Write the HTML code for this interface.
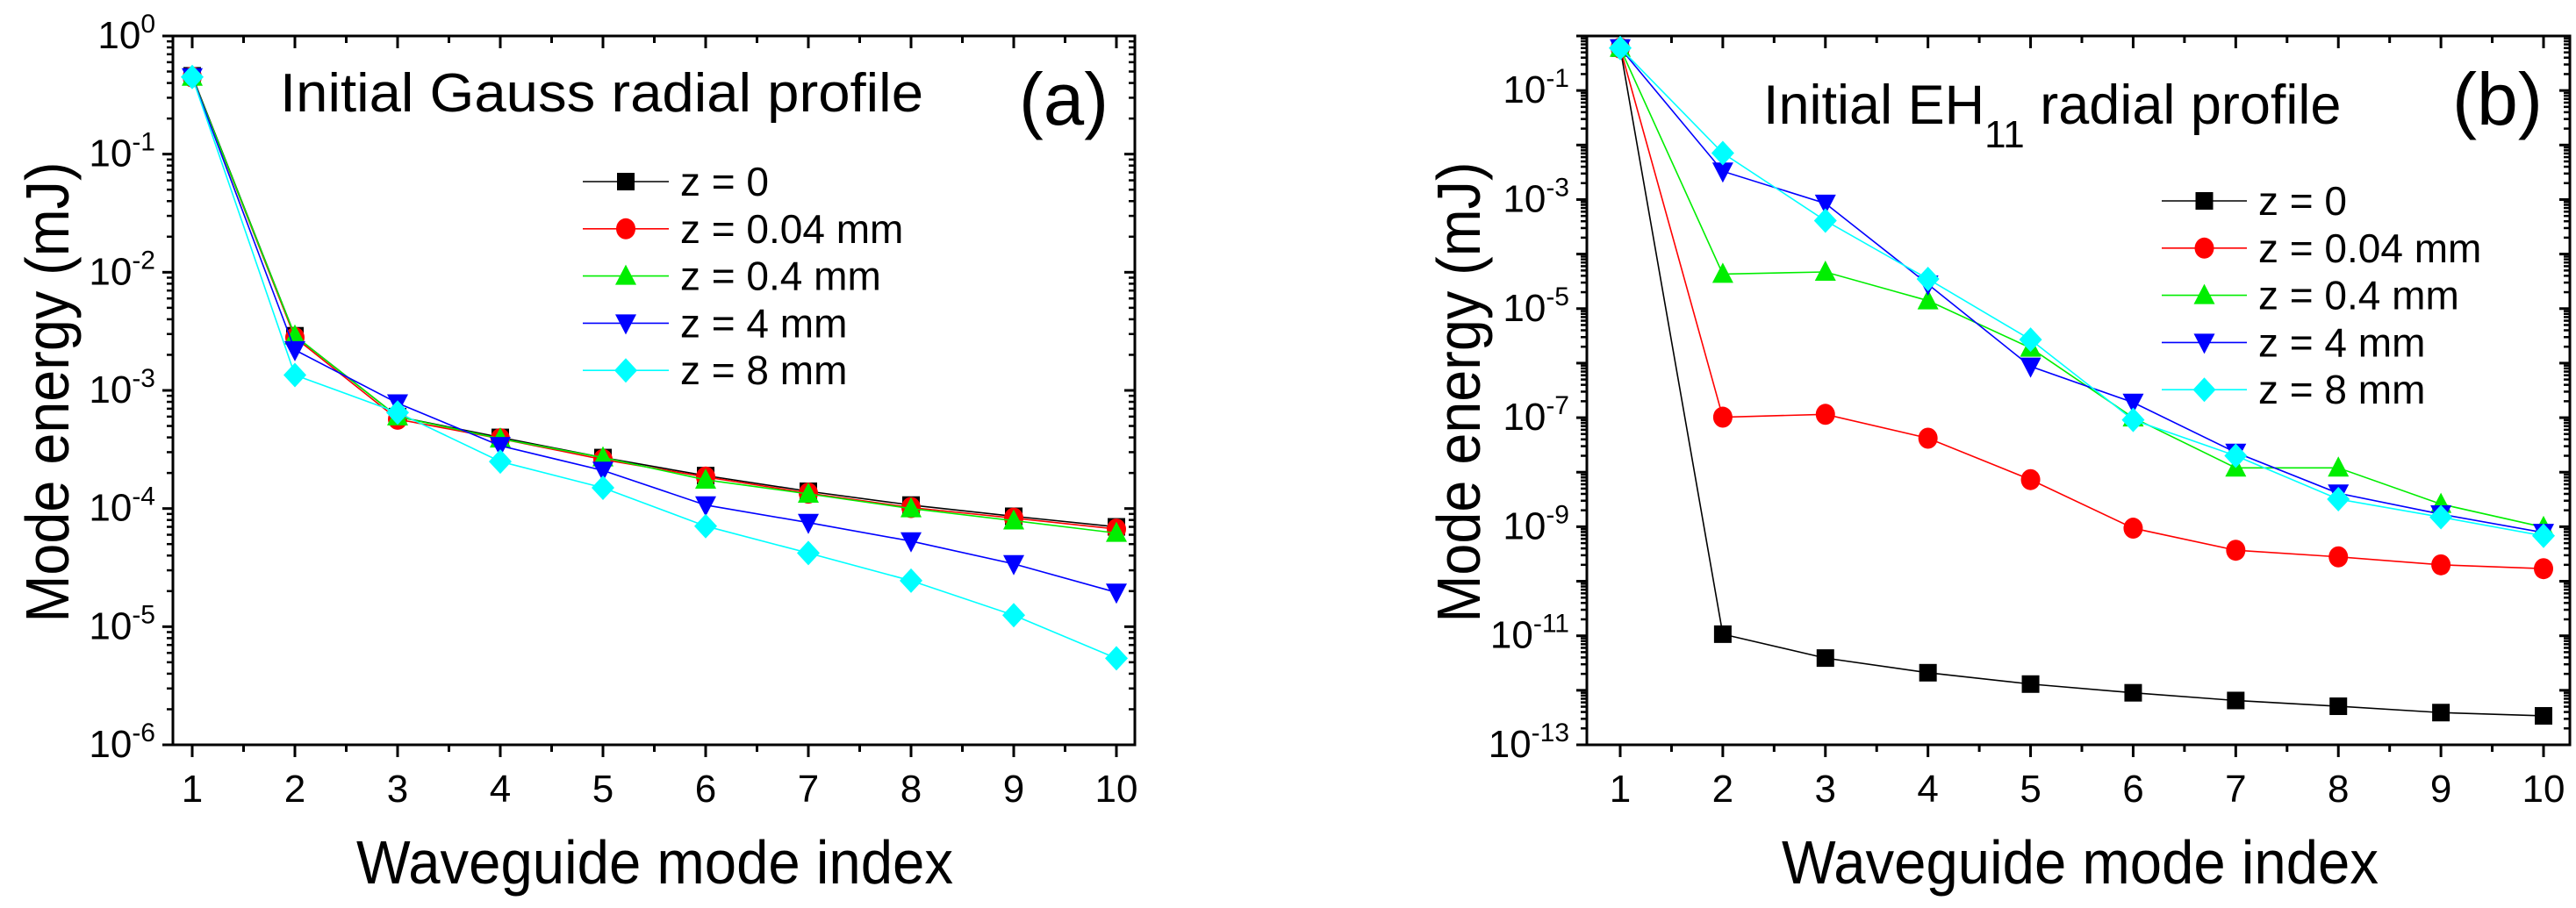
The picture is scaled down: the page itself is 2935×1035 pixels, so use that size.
<!DOCTYPE html>
<html><head><meta charset="utf-8"><style>
html,body{margin:0;padding:0;background:#fff;}
svg text{font-family:"Liberation Sans",Arial,sans-serif;fill:#000;}
</style></head><body>
<svg id="chart" xmlns="http://www.w3.org/2000/svg" width="2935" height="1030" viewBox="0 0 2935 1030">
<rect width="2935" height="1030" fill="#fff"/>
<g id="pa"></g>
<g id="pb"></g>
</svg>
<script>
const modes=[1,2,3,4,5,6,7,8,9,10];
const seriesNames=["z = 0","z = 0.04 mm","z = 0.4 mm","z = 4 mm","z = 8 mm"];
const seriesColors=["#000000","#ff0000","#00ee00","#0000ff","#00ffff"];
const seriesMarkers=["square","circle","triangle","tri-down","diamond"];
// Panel (a): Initial Gauss radial profile
const a_z0=[0.46,2.9e-3,6.0e-4,4.0e-4,2.7e-4,1.9e-4,1.4e-4,1.07e-4,8.6e-5,7.0e-5];
const a_z004=[0.45,2.8e-3,5.7e-4,3.9e-4,2.6e-4,1.85e-4,1.35e-4,1.02e-4,8.3e-5,6.7e-5];
const a_z04=[0.45,2.9e-3,6.0e-4,3.9e-4,2.7e-4,1.75e-4,1.33e-4,1.0e-4,7.9e-5,6.2e-5];
const a_z4=[0.45,2.2e-3,7.8e-4,3.4e-4,2.1e-4,1.07e-4,7.6e-5,5.3e-5,3.4e-5,1.95e-5];
const a_z8=[0.45,1.35e-3,6.5e-4,2.5e-4,1.5e-4,7.1e-5,4.2e-5,2.45e-5,1.25e-5,5.4e-6];
const a_yTickExp=[0,-1,-2,-3,-4,-5,-6];
// Panel (b): Initial EH11 radial profile
const b_z0=[0.6,1.07e-11,3.9e-12,2.1e-12,1.3e-12,9e-13,6.5e-13,5.1e-13,3.9e-13,3.4e-13];
const b_z004=[0.6,1.02e-7,1.15e-7,4.2e-8,7.3e-9,9.4e-10,3.7e-10,2.8e-10,2.0e-10,1.7e-10];
const b_z04=[0.6,4.3e-5,4.7e-5,1.4e-5,1.9e-6,1.0e-7,1.2e-8,1.2e-8,2.6e-9,9.8e-10];
const b_z4=[0.6,3.3e-3,8.5e-4,2.8e-5,8.7e-7,1.9e-7,2.3e-8,4.1e-9,1.7e-9,7.8e-10];
const b_z8=[0.6,7.1e-3,4.1e-4,3.5e-5,2.7e-6,9.1e-8,2.0e-8,3.2e-9,1.5e-9,6.8e-10];
const b_yTickExp=[-1,-3,-5,-7,-9,-11,-13];

const NS="http://www.w3.org/2000/svg";
function mk(parent,tag,attrs){const e=document.createElementNS(NS,tag);for(const k in attrs)e.setAttribute(k,attrs[k]);parent.appendChild(e);return e;}

function drawPanel(g,cfg){
  const {L,R,T,B,x1px,x10px,yMaxExp,yMinExp}=cfg;
  const xs=v=>x1px+(v-1)*(x10px-x1px)/9;
  const ys=v=>T+(yMaxExp-Math.log10(v))*(B-T)/(yMaxExp-yMinExp);
  const frame=mk(g,'rect',{x:L,y:T,width:R-L,height:B-T,fill:'none',stroke:'#000','stroke-width':3});
  
  
  for(let v=1;v<=10;v+=0.5){
    const maj=Number.isInteger(v);const x=xs(v);const len=maj?14:8;
    const t1=mk(g,'line',{x1:x,x2:x,y1:B,y2:B+len,stroke:'#000','stroke-width':3});
    
    
    const t2=mk(g,'line',{x1:x,x2:x,y1:T,y2:T+len,stroke:'#000','stroke-width':3});
    
    
  }
  modes.forEach(m=>{
    const t=mk(g,'text',{x:xs(m),y:914,'font-size':44,'text-anchor':'middle'});
    t.textContent=m;
    
    
  });
  for(let e=yMinExp;e<=yMaxExp;e++){
    const y=ys(Math.pow(10,e));
    const tl=mk(g,'line',{x1:L-12,x2:L,y1:y,y2:y,stroke:'#000','stroke-width':3});
    
    
    const tr=mk(g,'line',{x1:R-12,x2:R,y1:y,y2:y,stroke:'#000','stroke-width':3});
    
    
    if(e<yMaxExp){for(let k=2;k<=9;k++){const yy=ys(k*Math.pow(10,e));
      const m1=mk(g,'line',{x1:L-7,x2:L,y1:yy,y2:yy,stroke:'#000','stroke-width':2.5});
      
      
      const m2=mk(g,'line',{x1:R-7,x2:R,y1:yy,y2:yy,stroke:'#000','stroke-width':2.5});
      
      
    }}
  }
  cfg.yTicks.forEach(e=>{
    const y=ys(Math.pow(10,e));
    const t=mk(g,'text',{x:L-20,y:y+14,'font-size':44,'text-anchor':'end'});
    
    
    const b=document.createElementNS(NS,'tspan');b.textContent='10';t.appendChild(b);
    const s=document.createElementNS(NS,'tspan');s.setAttribute('dy','-18');s.setAttribute('font-size','30');s.textContent=String(e);t.appendChild(s);
  });
  cfg.series.forEach((arr,i)=>{
    const sg=mk(g,'g',{});
    
    
    const pts=arr.map((v,j)=>xs(modes[j])+','+ys(v)).join(' ');
    const pl=mk(sg,'polyline',{points:pts,fill:'none',stroke:seriesColors[i],'stroke-width':1.6});
    
    
    arr.forEach((v,j)=>{
      const m=marker(sg,seriesMarkers[i],xs(modes[j]),ys(v),seriesColors[i]);
      
      
    });
  });
  const lg=mk(g,'g',{});
  
  
  seriesNames.forEach((n,i)=>{
    const y=cfg.legY+i*cfg.legDy;
    const eg=mk(lg,'g',{});
    
    
    mk(eg,'line',{x1:cfg.legX0,x2:cfg.legX1,y1:y,y2:y,stroke:seriesColors[i],'stroke-width':1.6});
    marker(eg,seriesMarkers[i],(cfg.legX0+cfg.legX1)/2,y,seriesColors[i]);
    const t=mk(eg,'text',{x:cfg.legTx,y:y+16,'font-size':46});
    t.textContent=n;
  });
}
function marker(g,type,x,y,c){
  const s=10;
  if(type==='square')return mk(g,'rect',{x:x-s,y:y-s,width:2*s,height:2*s,fill:c});
  if(type==='circle')return mk(g,'ellipse',{cx:x,cy:y,rx:s+1,ry:s+2,fill:c});
  if(type==='triangle')return mk(g,'polygon',{points:`${x},${y-s-3} ${x+s+2},${y+s} ${x-s-2},${y+s}`,fill:c});
  if(type==='tri-down')return mk(g,'polygon',{points:`${x-s-2},${y-s} ${x+s+2},${y-s} ${x},${y+s+3}`,fill:c});
  return mk(g,'polygon',{points:`${x},${y-s-4} ${x+s+3},${y} ${x},${y+s+4} ${x-s-3},${y}`,fill:c});
}
const pa=document.getElementById('pa'),pb=document.getElementById('pb');
drawPanel(pa,{L:197,R:1293,T:41,B:849,x1px:219,x10px:1272,yMaxExp:0,yMinExp:-6,yTicks:a_yTickExp,
  series:[a_z0,a_z004,a_z04,a_z4,a_z8],legY:207,legDy:53.8,legX0:664,legX1:762,legTx:775});
drawPanel(pb,{L:1808,R:2928,T:41,B:849,x1px:1846,x10px:2898,yMaxExp:0,yMinExp:-13,yTicks:b_yTickExp,
  series:[b_z0,b_z004,b_z04,b_z4,b_z8],legY:229,legDy:53.8,legX0:2463,legX1:2560,legTx:2573});
function txt(g,name,attrs,content){const t=mk(g,'text',attrs);t.textContent=content;return t;}
txt(pa,'panel-title',{x:319,y:127,'font-size':62,textLength:733,lengthAdjust:'spacingAndGlyphs'},'Initial Gauss radial profile');
txt(pa,'panel-label',{x:1161,y:142,'font-size':84,textLength:102,lengthAdjust:'spacingAndGlyphs'},'(a)');
txt(pa,'x-axis-title',{x:746,y:1007,'font-size':70,'text-anchor':'middle',textLength:680,lengthAdjust:'spacingAndGlyphs'},'Waveguide mode index');
txt(pa,'y-axis-title',{x:0,y:0,'font-size':70,'text-anchor':'middle',textLength:525,lengthAdjust:'spacingAndGlyphs',transform:'translate(78,447) rotate(-90)'},'Mode energy (mJ)');
const tb=txt(pb,'panel-title',{x:2009,y:141,'font-size':63},'');
tb.innerHTML='<tspan>Initial EH</tspan><tspan dy="27" font-size="44">11</tspan><tspan dy="-27"> radial profile</tspan>';
txt(pb,'panel-label',{x:2794,y:142,'font-size':84,textLength:103,lengthAdjust:'spacingAndGlyphs'},'(b)');
txt(pb,'x-axis-title',{x:2370,y:1007,'font-size':70,'text-anchor':'middle',textLength:680,lengthAdjust:'spacingAndGlyphs'},'Waveguide mode index');
txt(pb,'y-axis-title',{x:0,y:0,'font-size':70,'text-anchor':'middle',textLength:525,lengthAdjust:'spacingAndGlyphs',transform:'translate(1686,447) rotate(-90)'},'Mode energy (mJ)');
</script>
</body></html>
